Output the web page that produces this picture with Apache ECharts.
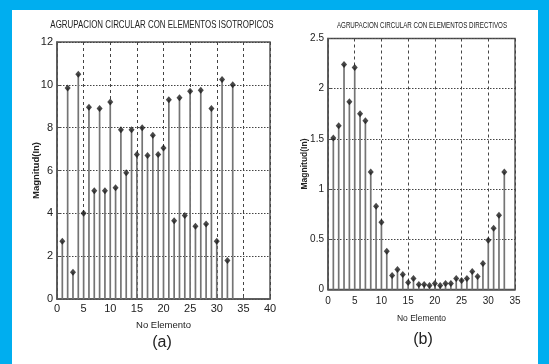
<!DOCTYPE html>
<html>
<head>
<meta charset="utf-8">
<script src="https://cdn.jsdelivr.net/npm/echarts@6/dist/echarts.min.js"></script>
<style>
html,body{margin:0;padding:0;background:#fff;}
#c{width:549px;height:364px;}
</style>
</head>
<body>
<div id="c"></div>
<script>
// Data
var elementsA = [1,2,3,4,5,6,7,8,9,10,11,12,13,14,15,16,17,18,19,20,21,22,23,24,25,26,27,28,29,30,31,32,33];
var magnitudeA = [2.7,9.85,1.25,10.5,4.0,8.95,5.05,8.9,5.05,9.2,5.2,7.9,5.9,7.9,6.75,8.0,6.7,7.65,6.75,7.05,9.3,3.65,9.4,3.9,9.7,3.4,9.75,3.5,8.9,2.7,10.25,1.8,10.0];
var elementsB = [1,2,3,4,5,6,7,8,9,10,11,12,13,14,15,16,17,18,19,20,21,22,23,24,25,26,27,28,29,30,31,32,33];
var magnitudeB = [1.51,1.63,2.24,1.87,2.21,1.75,1.68,1.17,0.83,0.67,0.38,0.14,0.20,0.15,0.07,0.11,0.05,0.05,0.04,0.06,0.04,0.06,0.06,0.11,0.09,0.11,0.18,0.13,0.26,0.49,0.61,0.74,1.17];
var titleA = 'AGRUPACION CIRCULAR CON ELEMENTOS ISOTROPICOS';
var titleB = 'AGRUPACION CIRCULAR CON ELEMENTOS DIRECTIVOS';
var xName = 'No Elemento';
var yName = 'Magnitud(In)';

var sans = "'Liberation Sans',Arial,sans-serif";
function pairs(xs, ys){ return xs.map(function(x,i){ return [x, ys[i]]; }); }

function stemSeries(idx, data){
  return {
    type:'custom', xAxisIndex:idx, yAxisIndex:idx, data:data, silent:true,
    renderItem:function(params, api){
      var top = api.coord([api.value(0), api.value(1)]);
      var bot = api.coord([api.value(0), 0]);
      return {type:'line', shape:{x1:top[0],y1:top[1],x2:bot[0],y2:bot[1]},
        style:{stroke:'#747474', lineWidth:1.7}};
    }
  };
}
function markSeries(idx, data){
  return {type:'scatter', xAxisIndex:idx, yAxisIndex:idx, data:data, silent:true,
    symbol:'diamond', symbolSize:[6,7], itemStyle:{color:'#1a1a1a'}};
}
function xAx(idx, max, gap, margin, fs){
  return {type:'value', gridIndex:idx, min:0, max:max, interval:5,
    name:xName, nameLocation:'middle', nameGap:gap, nameMoveOverlap:false,
    nameTextStyle:{fontFamily:sans, fontSize:fs-1.5, color:'#222'},
    axisLine:{show:true, onZero:false, lineStyle:{color:'#555', width:1.5}},
    axisTick:{show:true, inside:true, length:3, lineStyle:{color:'#555'}},
    axisLabel:{fontFamily:sans, fontSize:fs, color:'#222', margin:margin},
    splitLine:{show:true, lineStyle:{color:'#444', type:[3,3], width:1}}};
}
function yAx(idx, max, interval, gap, fs){
  return {type:'value', gridIndex:idx, min:0, max:max, interval:interval,
    name:yName, nameLocation:'middle', nameGap:gap, nameRotate:90, nameMoveOverlap:false,
    nameTextStyle:{fontFamily:sans, fontSize:fs-1.5, color:'#222', fontWeight:'bold'},
    axisLine:{show:true, lineStyle:{color:'#555', width:1.5}},
    axisTick:{show:true, inside:true, length:3, lineStyle:{color:'#555'}},
    axisLabel:{fontFamily:sans, fontSize:fs, color:'#222', margin:4},
    splitLine:{show:true, lineStyle:{color:'#444', type:[1.5,1.5], width:1}}};
}
function titleText(txt, x, y, fs, sx){
  return {type:'text', x:x, y:y, scaleX:sx, silent:true,
    style:{text:txt, fontFamily:sans, fontSize:fs, fill:'#222',
      align:'center', verticalAlign:'middle', textAlign:'center', textVerticalAlign:'middle'}};
}

var chart = echarts.init(document.getElementById('c'), null, {renderer:'canvas'});
chart.setOption({
  animation:false,
  backgroundColor:'#fff',
  graphic:[
    {type:'rect', x:0, y:0, shape:{width:549, height:10}, style:{fill:'#00AEEF'}},
    {type:'rect', x:0, y:0, shape:{width:12, height:364}, style:{fill:'#00AEEF'}},
    {type:'rect', x:538, y:0, shape:{width:11, height:364}, style:{fill:'#00AEEF'}},
    titleText(titleA, 162, 25, 11, 0.72),
    titleText(titleB, 422, 25, 9.5, 0.655),
    titleText('(a)', 162, 343, 16, 1),
    titleText('(b)', 423, 340, 16, 1)
  ],
  grid:[
    {left:57, top:42, width:213, height:257, show:true, borderColor:'#555', borderWidth:1.5, backgroundColor:'#fff'},
    {left:328, top:38.5, width:187, height:251, show:true, borderColor:'#555', borderWidth:1.5, backgroundColor:'#fff'}
  ],
  xAxis:[xAx(0,40,21,4,11), xAx(1,35,25,7,10)],
  yAxis:[yAx(0,12,2,16,11), yAx(1,2.5,0.5,19,10)],
  series:[
    stemSeries(0, pairs(elementsA, magnitudeA)),
    markSeries(0, pairs(elementsA, magnitudeA)),
    stemSeries(1, pairs(elementsB, magnitudeB)),
    markSeries(1, pairs(elementsB, magnitudeB))
  ]
});
</script>
</body>
</html>
